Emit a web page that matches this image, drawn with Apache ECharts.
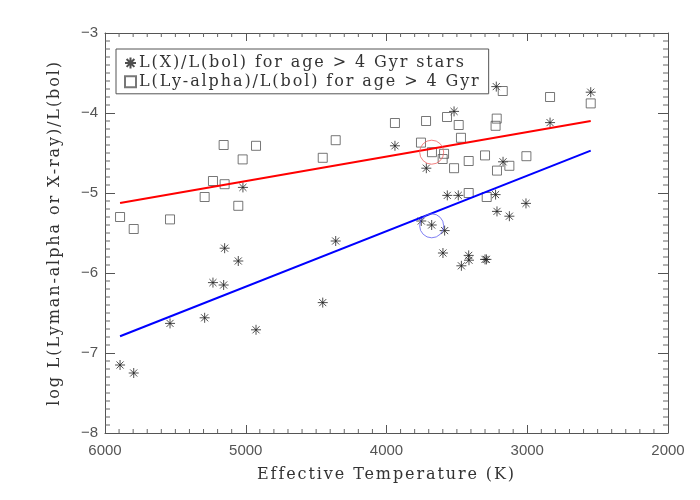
<!DOCTYPE html>
<html>
<head>
<meta charset="utf-8">
<script src="https://cdn.jsdelivr.net/npm/echarts@6/dist/echarts.min.js"></script>
<style>
html, body { margin: 0; padding: 0; background: #fff; }
#chart { width: 700px; height: 500px; }
</style>
</head>
<body>
<div id="chart"></div>
<script>
// L(X)/L(bol), asterisks
var xrayTemp = [5893, 5796, 5538, 5292, 5233, 5157, 5150, 5053, 5020, 4927, 4453, 4361, 3940, 3753, 3717, 3679, 3599,
  3587, 3568, 3520, 3490, 3468, 3416, 3414, 3300, 3290, 3225, 3220, 3215, 3172, 3127, 3009, 2838, 2549]
var xrayLog = [-7.15, -7.25, -6.63, -6.56, -6.12, -6.15, -5.69, -5.85, -4.93, -6.71, -6.37, -5.60, -4.41, -5.35, -4.69, -5.40, -5.75,
  -5.47, -5.03, -3.98, -5.03, -5.91, -5.78, -5.84, -5.83, -5.83, -5.02, -3.67, -5.23, -4.61, -5.29, -5.13, -4.12, -3.74]

// L(Ly-alpha)/L(bol), squares
var lyaTemp = [5893, 5796, 5538, 5292, 5233, 5157, 5150, 5053, 5022, 4927, 4453, 4361, 3940, 3755, 3719, 3677, 3601,
  3591, 3570, 3520, 3487, 3471, 3416, 3416, 3300, 3288, 3225, 3217, 3215, 3174, 3127, 3006, 2838, 2549]
var lyaLog = [-5.30, -5.45, -5.33, -5.05, -4.85, -4.40, -4.89, -5.16, -4.58, -4.41, -4.56, -4.34, -4.125, -4.37, -4.10, -4.49, -4.575,
  -4.51, -4.05, -4.69, -4.15, -4.31, -4.60, -5.00, -4.53, -5.05, -4.16, -4.07, -4.72, -3.725, -4.66, -4.54, -3.80, -3.88]

// fit lines (end points)
var fitTemp = [5893, 2549]
var lyaFit = [-5.125, -4.10]
var xrayFit = [-6.79, -4.47]

// marked star
var sunTemp = [3679]
var sunLya = [-4.49]
var sunXray = [-5.41]

// min, max, major step, minor step
var xTicks = [2000, 6000, 1000, 100]
var yTicks = [-8, -3, 1, 0.1]

var serif = 'DejaVu Serif'
var names = ['L(X)/L(bol) for age > 4 Gyr stars', 'L(Ly-alpha)/L(bol) for age > 4 Gyr']
var asterisk = 'path://M0,-10L0,10M-10,0L10,0M-7.07,-7.07L7.07,7.07M-7.07,7.07L7.07,-7.07'

// the plot's serif text is a wide vector font, so space the letters out a bit
var proto = CanvasRenderingContext2D.prototype
var fillText = proto.fillText
var measureText = proto.measureText
function spacing (ctx) {
  ctx.letterSpacing = ctx.font.indexOf(serif) >= 0 ? '1.9px' : '0px'
}
proto.fillText = function () { spacing(this); return fillText.apply(this, arguments) }
proto.measureText = function () { spacing(this); return measureText.apply(this, arguments) }

function pairs (xs, ys) {
  return xs.map(function (x, i) { return [x, ys[i]] })
}

// minor tick values between the major ones
function minorValues (t) {
  var vals = []
  var n = Math.round((t[1] - t[0]) / t[3])
  var per = Math.round(t[2] / t[3])
  for (var i = 1; i < n; i++) {
    if (i % per !== 0) vals.push(+(t[0] + i * t[3]).toFixed(3))
  }
  return vals
}
var xMinor = minorValues(xTicks)
var yMinor = minorValues(yTicks)

// grid 0 has the bottom/left axes with labels, grid 1 (same place) the top/right ones
function axisX (grid, pos) {
  var labels = pos === 'bottom'
  return {
    type: 'value',
    gridIndex: grid,
    position: pos,
    min: xTicks[0],
    max: xTicks[1],
    interval: xTicks[2],
    inverse: true,
    name: labels ? 'Effective Temperature (K)' : '',
    nameLocation: 'middle',
    nameGap: 33,
    nameTextStyle: { fontFamily: serif, fontSize: 16, color: '#333' },
    axisLine: { show: true, lineStyle: { color: '#555', width: 1 } },
    axisTick: { show: true, inside: true, length: 8 },
    axisLabel: {
      show: labels,
      margin: 10,
      fontFamily: 'Liberation Sans',
      fontSize: 15,
      color: '#555',
      formatter: function (v) { return String(v) }
    },
    splitLine: { show: false }
  }
}

function axisY (grid, pos) {
  var labels = pos === 'left'
  return {
    type: 'value',
    gridIndex: grid,
    position: pos,
    min: yTicks[0],
    max: yTicks[1],
    interval: yTicks[2],
    name: labels ? 'log L(Lyman-alpha or X-ray)/L(bol)' : '',
    nameLocation: 'middle',
    nameGap: 41,
    nameTextStyle: { fontFamily: serif, fontSize: 16, color: '#333' },
    axisLine: { show: true, lineStyle: { color: '#555', width: 1 } },
    axisTick: { show: true, inside: true, length: 10 },
    axisLabel: {
      show: labels,
      margin: 7,
      fontFamily: 'Liberation Sans',
      fontSize: 15,
      color: '#555',
      formatter: function (v) { return v < 0 ? '\u2212' + Math.abs(v) : '' + v }
    },
    splitLine: { show: false }
  }
}

// short inward ticks on both edges, placed through the axes' own scales
function tickSeries (values, horizontal, len) {
  return {
    type: 'custom',
    silent: true,
    clip: false,
    z: 1,
    data: values.map(function (v) { return horizontal ? [v, yTicks[0]] : [xTicks[0], v] }),
    renderItem: function (params, api) {
      var v = api.value(horizontal ? 0 : 1)
      var a = horizontal ? api.coord([v, yTicks[0]]) : api.coord([xTicks[1], v])
      var b = horizontal ? api.coord([v, yTicks[1]]) : api.coord([xTicks[0], v])
      var style = { stroke: '#666', lineWidth: 1 }
      return {
        type: 'group',
        children: horizontal ? [
          { type: 'line', shape: { x1: a[0], y1: a[1], x2: a[0], y2: a[1] - len }, style: style },
          { type: 'line', shape: { x1: b[0], y1: b[1], x2: b[0], y2: b[1] + len }, style: style }
        ] : [
          { type: 'line', shape: { x1: a[0], y1: a[1], x2: a[0] + len, y2: a[1] }, style: style },
          { type: 'line', shape: { x1: b[0], y1: b[1], x2: b[0] - len, y2: b[1] }, style: style }
        ]
      }
    }
  }
}

var chart = echarts.init(document.getElementById('chart'))
var box = { left: 105, right: 32, top: 33, bottom: 67, outerBoundsMode: 'none' }
var option = {
  backgroundColor: '#fff',
  animation: false,
  grid: [box, Object.assign({}, box)],
  legend: {
    data: names,
    orient: 'vertical',
    left: 116,
    top: 49,
    padding: [5, 8, 3, 8],
    itemGap: 1,
    itemWidth: 11,
    itemHeight: 11,
    borderColor: '#555',
    borderWidth: 1,
    borderRadius: 0,
    selectedMode: false,
    textStyle: { fontFamily: serif, fontSize: 16, color: '#333', padding: [0, 0, 0, -2] }
  },
  xAxis: [axisX(0, 'bottom'), axisX(1, 'top')],
  yAxis: [axisY(0, 'left'), axisY(1, 'right')],
  series: [
    tickSeries(xMinor, true, 4),
    tickSeries(yMinor, false, 5),
    {
      name: names[0],
      type: 'scatter',
      symbol: asterisk,
      symbolSize: 10,
      data: pairs(xrayTemp, xrayLog),
      itemStyle: { color: 'rgba(0,0,0,0)', borderColor: '#222', borderWidth: 1 },
      emphasis: { disabled: true },
      z: 3
    },
    {
      name: names[1],
      type: 'scatter',
      symbol: 'rect',
      symbolSize: 9,
      data: pairs(lyaTemp, lyaLog),
      itemStyle: { color: 'rgba(0,0,0,0)', borderColor: '#555', borderWidth: 1 },
      emphasis: { disabled: true },
      z: 3
    },
    {
      type: 'line',
      data: pairs(fitTemp, lyaFit),
      symbol: 'none',
      lineStyle: { color: '#ff0000', width: 2 },
      emphasis: { disabled: true },
      z: 4
    },
    {
      type: 'line',
      data: pairs(fitTemp, xrayFit),
      symbol: 'none',
      lineStyle: { color: '#0000ff', width: 2 },
      emphasis: { disabled: true },
      z: 4
    },
    {
      type: 'scatter',
      symbol: 'circle',
      symbolSize: 24,
      data: pairs(sunTemp, sunLya),
      itemStyle: { color: 'rgba(0,0,0,0)', borderColor: '#f06060', borderWidth: 1 },
      emphasis: { disabled: true },
      z: 5
    },
    {
      type: 'scatter',
      symbol: 'circle',
      symbolSize: 24,
      data: pairs(sunTemp, sunXray),
      itemStyle: { color: 'rgba(0,0,0,0)', borderColor: '#6060f0', borderWidth: 1 },
      emphasis: { disabled: true },
      z: 5
    }
  ]
}
chart.setOption(option)
window.addEventListener('resize', function () {
  chart.resize()
})
</script>
</body>
</html>
